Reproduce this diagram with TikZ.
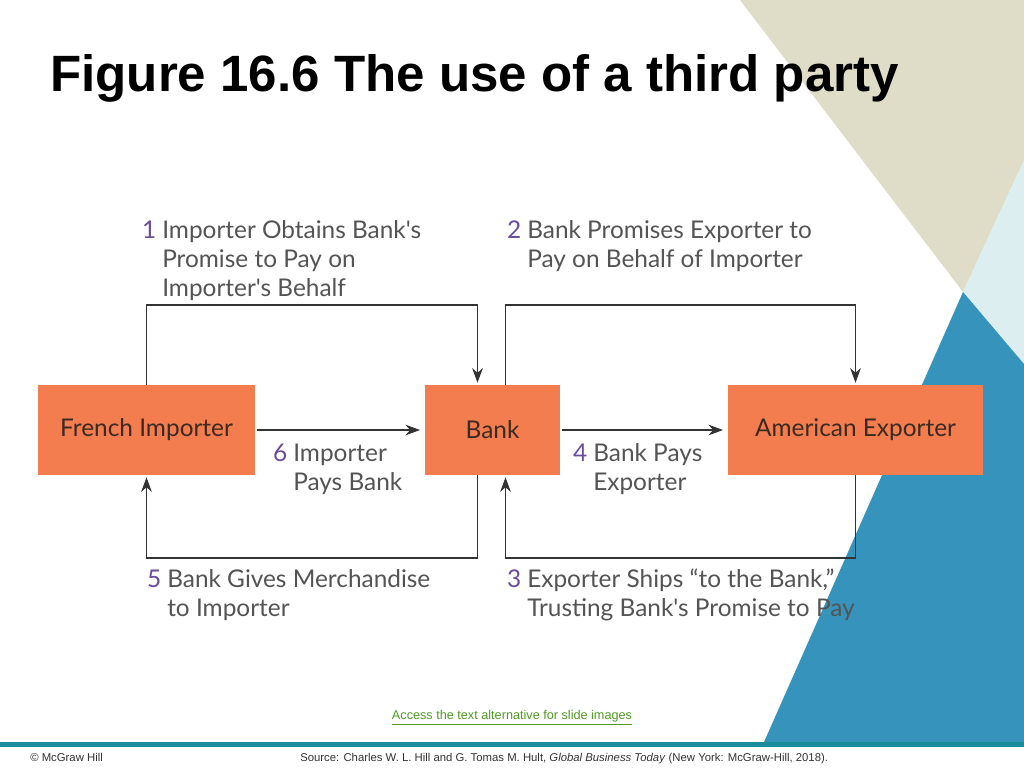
\documentclass[tikz,border=0pt]{standalone}
\usepackage{fontspec}
\setmainfont{Liberation Sans}
\newfontfamily\diagfont{Lato}
\usepackage{xcolor}
\usetikzlibrary{arrows.meta, positioning, calc}
\newcommand{\stepno}[1]{\makebox[0pt][r]{\textcolor{steppurple}{#1}\hspace{4.5pt}}}
\definecolor{boxorange}{HTML}{F37D4F}
\definecolor{boxink}{HTML}{3B2A22}
\definecolor{steppurple}{HTML}{6A4C9C}
\definecolor{stepgray}{HTML}{545454}
\definecolor{lineink}{HTML}{333333}
\definecolor{bgbeige}{HTML}{DFDCC7}
\definecolor{bglight}{HTML}{DCEEF0}
\definecolor{bgblue}{HTML}{3593BC}
\definecolor{barteal}{HTML}{1A8C9C}
\definecolor{linkgreen}{HTML}{4F9A22}

\begin{document}
\begin{tikzpicture}[
  x=0.75pt, y=-0.75pt,
  party/.style={
    fill=boxorange,
    text=boxink,
    font=\diagfont\fontsize{18.3}{22}\selectfont,
    minimum height=67.5pt,
    inner sep=0pt
  },
  steplabel/.style={
    align=left,
    anchor=base west,
    inner sep=0pt,
    text=stepgray,
    font=\diagfont\fontsize{18.3}{21.75}\selectfont
  },
  flow/.style={-{Stealth[length=11pt,width=8pt]}, line width=1.2pt, draw=lineink},
  footnote/.style={inner sep=0pt, anchor=base west, font=\fontsize{8.5}{10}\selectfont, text=black!80}
]
\useasboundingbox (0,0) rectangle (1024,768);

% slide background
\fill[bgbeige] (740,0) -- (1024,0) -- (1024,160) -- (963,292) -- cycle;
\fill[bglight] (1024,160) -- (963,292) -- (1024,364) -- cycle;
\fill[bgblue] (963,292) -- (1024,364) -- (1024,742) -- (764,742) -- cycle;
\fill[barteal] (0,742) rectangle (1024,747);

\node[inner sep=0pt, anchor=base west, font=\bfseries\fontsize{38.3}{42}\selectfont] (title) at (50,91)
{Figure 16.6 The use of a third party};

\node[party, minimum width=162.75pt] (imp) at (146.5,430) {French Importer};
\node[party, minimum width=101.25pt] (bank) at (492.5,430) {Bank};
\node[party, minimum width=191.25pt] (exp) at (855.5,430) {American Exporter};

\coordinate (b1) at ($(bank.north)+(-15,0)$);
\coordinate (b2) at ($(bank.north)+(13,0)$);
\coordinate (b5) at ($(bank.south)+(-15,0)$);
\coordinate (b3) at ($(bank.south)+(13,0)$);

\draw[flow, shorten >=1.5pt] (imp.north) -- ++(0,-80) -| (b1);
\draw[flow, shorten >=1.5pt] (b2) -- ++(0,-80) -| (exp.north);
\draw[flow, shorten <=1.5pt, shorten >=3.5pt] (imp.east) -- (bank.west);
\draw[flow, shorten <=1.5pt, shorten >=3.5pt] (bank.east) -- (exp.west);
\draw[flow, shorten >=1.5pt] (exp.south) -- ++(0,83) -| (b3);
\draw[flow, shorten >=1.5pt] (b5) -- ++(0,83) -| (imp.south);

% base of a multi-line label is its last line
\node[steplabel] (lab1) at (162,296) {\stepno{1}Importer Obtains Bank's\\Promise to Pay on\\Importer's Behalf};
\node[steplabel] (lab2) at (527,267) {\stepno{2}Bank Promises Exporter to\\Pay on Behalf of Importer};
\node[steplabel] (lab6) at (293,490) {\stepno{6}Importer\\Pays Bank};
\node[steplabel] (lab4) at (593,490) {\stepno{4}Bank Pays\\Exporter};
\node[steplabel] (lab5) at (167,616) {\stepno{5}Bank Gives Merchandise\\to Importer};
\node[steplabel] (lab3) at (527,616) {\stepno{3}Exporter Ships “to the Bank,”\\Trusting Bank's Promise to Pay};

\node[inner sep=0pt, font=\fontsize{9.5}{11}\selectfont, text=linkgreen] (access) at (512,718)
{\underline{Access the text alternative for slide images}};
\node[footnote] (copy) at (30,761) {© McGraw Hill};
\node[footnote] (source) at (300,761)
{Source: Charles W. L. Hill and G. Tomas M. Hult, \textit{Global Business Today} (New York: McGraw-Hill, 2018).};
\end{tikzpicture}
\end{document}
